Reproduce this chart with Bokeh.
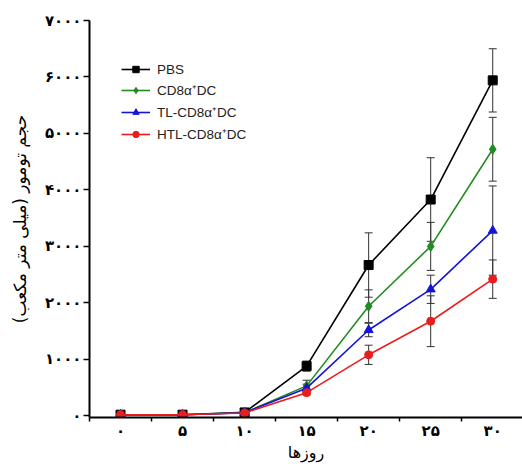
from bokeh.plotting import figure
from bokeh.models import FixedTicker, Whisker, ColumnDataSource, Legend, LegendItem, TeeHead
from bokeh.embed import file_html
from bokeh.resources import INLINE

days = [0, 5, 10, 15, 20, 25, 30]
pbs = [20, 20, 60, 880, 2670, 3830, 5940]
pbs_err = [0, 0, 0, 90, 570, 740, 560]
cd8 = [20, 20, 55, 530, 1940, 3000, 4720]
cd8_err = [0, 0, 0, 100, 290, 425, 565]
tl = [20, 20, 55, 490, 1520, 2240, 3280]
tl_err = [0, 0, 0, 70, 120, 250, 790]
htl = [20, 20, 50, 410, 1080, 1675, 2420]
htl_err = [0, 0, 0, 40, 170, 450, 340]

series_names = ["PBS", "CD8α⁺DC", "TL-CD8α⁺DC", "HTL-CD8α⁺DC"]
series_colors = ["#000000", "#238b23", "#1414d8", "#e81e1e"]
series_markers = ["square", "diamond", "triangle", "circle"]

x_ticks = [0, 5, 10, 15, 20, 25, 30]
x_tick_labels = ["۰", "۵", "۱۰", "۱۵", "۲۰", "۲۵", "۳۰"]
x_minor = [-2.5, 2.5, 7.5, 12.5, 17.5, 22.5, 27.5, 32.5]
y_ticks = [0, 1000, 2000, 3000, 4000, 5000, 6000, 7000]
y_tick_labels = ["۰", "۱۰۰۰", "۲۰۰۰", "۳۰۰۰", "۴۰۰۰", "۵۰۰۰", "۶۰۰۰", "۷۰۰۰"]
x_title = "روزها"
y_title = "حجم تومور (میلی متر مکعب)"

p = figure(width=522, height=464, x_range=(-2.5, 32.4), y_range=(-30, 7000),
           output_backend="svg", toolbar_location=None,
           min_border_left=89, min_border_right=0, min_border_top=20, min_border_bottom=46)
p.outline_line_color = None
p.xgrid.visible = False
p.ygrid.visible = False
p.background_fill_color = "white"
p.border_fill_color = "white"

xa = p.xaxis[0]
xa.ticker = FixedTicker(ticks=x_ticks, minor_ticks=x_minor)
xa.major_label_overrides = {t: l for t, l in zip(x_ticks, x_tick_labels)}
xa.major_tick_out = 0
xa.major_tick_in = 0
xa.minor_tick_out = 4
xa.minor_tick_in = 0
xa.major_label_standoff = 0
xa.axis_label = x_title
xa.axis_label_standoff = 0

ya = p.yaxis[0]
ya.ticker = FixedTicker(ticks=y_ticks, minor_ticks=[])
ya.major_label_overrides = {t: l for t, l in zip(y_ticks, y_tick_labels)}
ya.major_tick_out = 6
ya.major_tick_in = 0
ya.minor_tick_out = 0
ya.major_label_standoff = 2
ya.axis_label = y_title
ya.axis_label_standoff = 12

for ax in (xa, ya):
    ax.axis_line_width = 2
    ax.axis_line_color = "black"
    ax.major_tick_line_width = 1.5
    ax.minor_tick_line_width = 1.5
    ax.major_label_text_font = "DejaVu Sans"
    ax.major_label_text_font_size = "15px"
    ax.major_label_text_font_style = "bold"
    ax.major_label_text_color = "black"
    ax.axis_label_text_font = "DejaVu Sans"
    ax.axis_label_text_font_style = "normal"
    ax.axis_label_text_color = "black"
xa.axis_label_text_font_size = "16px"
ya.axis_label_text_font_size = "17px"

all_vals = [pbs, cd8, tl, htl]
all_errs = [pbs_err, cd8_err, tl_err, htl_err]

# error bars
for vals, errs in zip(all_vals, all_errs):
    xs = [d for d, e in zip(days, errs) if e > 0]
    lo = [v - e for v, e in zip(vals, errs) if e > 0]
    hi = [v + e for v, e in zip(vals, errs) if e > 0]
    src = ColumnDataSource(dict(x=xs, lo=lo, hi=hi))
    w = Whisker(base="x", lower="lo", upper="hi", source=src,
                line_color="#333333", line_width=1,
                upper_head=TeeHead(size=8, line_color="#333333", line_width=1),
                lower_head=TeeHead(size=8, line_color="#333333", line_width=1))
    p.add_layout(w)

items = []
for name, vals, col, mk in zip(series_names, all_vals, series_colors, series_markers):
    src = ColumnDataSource(dict(x=days, y=vals))
    ln = p.line("x", "y", source=src, line_color=col, line_width=1.6)
    sz = 9 if mk in ("square", "triangle") else (10 if mk == "diamond" else 8)
    sc = p.scatter("x", "y", source=src, marker=mk, size=sz, fill_color=col, line_color=col)
    items.append(LegendItem(label=name, renderers=[ln, sc]))

leg = Legend(items=items, location=(32, 274), border_line_color=None,
             background_fill_alpha=0, padding=0, margin=0, spacing=4,
             glyph_width=29, glyph_height=16, label_standoff=7,
             label_text_font="Liberation Sans", label_text_font_size="13.5px",
             label_text_color="#222222")
p.add_layout(leg)

open("out.html", "w").write(file_html(p, INLINE))
